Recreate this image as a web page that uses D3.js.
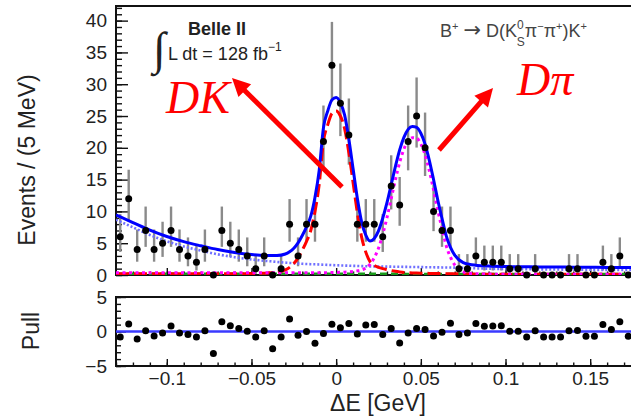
<!DOCTYPE html>
<html>
<head>
<meta charset="utf-8">
<script src="https://cdn.jsdelivr.net/npm/d3@7"></script>
<style>
  html, body { margin: 0; padding: 0; background: #fff; }
  svg { display: block; }
</style>
</head>
<body>
<svg id="chart" width="631" height="420"></svg>
<script>
// ---- Binned data: 5 MeV bins of Delta E ----
const binCenters = [-0.1275, -0.1225, -0.1175, -0.1125, -0.1075, -0.1025, -0.0975, -0.0925, -0.0875, -0.0825,
  -0.0775, -0.0725, -0.0675, -0.0625, -0.0575, -0.0525, -0.0475, -0.0425, -0.0375, -0.0325,
  -0.0275, -0.0225, -0.0175, -0.0125, -0.0075, -0.0025, 0.0025, 0.0075, 0.0125, 0.0175,
  0.0225, 0.0275, 0.0325, 0.0375, 0.0425, 0.0475, 0.0525, 0.0575, 0.0625, 0.0675,
  0.0725, 0.0775, 0.0825, 0.0875, 0.0925, 0.0975, 0.1025, 0.1075, 0.1125, 0.1175,
  0.1225, 0.1275, 0.1325, 0.1375, 0.1425, 0.1475, 0.1525, 0.1575, 0.1625, 0.1675, 0.1725];

const counts = [6, 12, 4, 7, 4, 5, 7, 4, 3, 2,
  4, 0, 7, 5, 4, 3, 1, 3, 0, 1,
  8, 3, 8, 8, 21, 33, 27, 22, 8, 8,
  8, 6, 14, 11, 21, 25, 20, 10, 7, 7,
  1, 1, 3, 2, 2, 2, 1, 1, 0, 1,
  0, 0, 0, 1, 1, 0, 0, 2, 1, 3, 0];

const pulls = [-0.8, 1.1, -1.1, 0.1, -0.65, -0.2, 0.8, -0.2, -0.45, -0.8,
  0.1, -3.2, 1.4, 0.85, 0.45, 0.05, -0.8, 0.1, -2.5, -0.8,
  1.8, -0.55, 0, -1.7, -0.3, 1.05, 0.55, 1.15, -0.35, 0.95,
  1.0, -0.45, 0.45, -1.65, -0.2, 0.45, 0.3, -0.65, -0.1, 1.2,
  -0.45, -0.2, 1.15, 0.75, 0.8, 0.85, 0.05, 0.05, -0.8, 0.1,
  -0.8, -0.8, -0.8, 0.1, 0.15, -0.7, -0.7, 1.0, 0.3, 1.4, -0.7];

// ---- Fit projections, sampled along Delta E ----
const curveX = [-0.13, -0.12, -0.11, -0.10, -0.09, -0.08, -0.07, -0.06, -0.05, -0.045,
  -0.04, -0.035, -0.03, -0.0275, -0.025, -0.0225, -0.02, -0.0175, -0.015, -0.0125,
  -0.01, -0.0075, -0.005, -0.0025, 0, 0.0025, 0.005, 0.0075, 0.01, 0.0125,
  0.015, 0.0175, 0.02, 0.0225, 0.025, 0.0275, 0.03, 0.0325, 0.035, 0.0375,
  0.04, 0.0425, 0.045, 0.0475, 0.05, 0.0525, 0.055, 0.0575, 0.06, 0.0625,
  0.065, 0.0675, 0.07, 0.075, 0.08, 0.09, 0.10, 0.11, 0.12, 0.13,
  0.14, 0.15, 0.16, 0.17, 0.18];

const totalFit = [9.45, 8.25, 7.05, 6.05, 5.25, 4.6, 4.0, 3.55, 3.22, 3.11,
  3.05, 3.06, 3.3, 3.65, 4.2, 5.05, 6.21, 7.58, 9.25, 12.23,
  16.5, 23.18, 25.76, 27.54, 27.93, 27.12, 25.13, 21.36, 16.7, 12.07,
  8.4, 6.28, 5.36, 5.75, 6.94, 8.93, 11.37, 14.21, 17.08, 19.67,
  21.65, 22.9, 23.35, 23.22, 22.29, 20.57, 18.04, 15.02, 11.79, 8.88,
  6.16, 4.34, 3.13, 1.95, 1.62, 1.41, 1.33, 1.30, 1.27, 1.25,
  1.23, 1.21, 1.19, 1.18, 1.17];

const dkSignal = [0.2, 0.2, 0.2, 0.2, 0.2, 0.2, 0.2, 0.2, 0.22, 0.26,
  0.32, 0.45, 0.8, 1.2, 1.8, 2.7, 3.9, 5.3, 7.0, 10.0,
  14.3, 21.0, 23.6, 25.4, 25.8, 25.0, 23.0, 19.2, 14.5, 9.8,
  6.0, 3.6, 2.1, 1.5, 1.2, 1.0, 0.85, 0.7, 0.58, 0.48,
  0.4, 0.36, 0.32, 0.3, 0.28, 0.27, 0.25, 0.24, 0.22, 0.22,
  0.21, 0.2, 0.2, 0.18, 0.15, 0.12, 0.12, 0.12, 0.12, 0.12,
  0.12, 0.12, 0.12, 0.12, 0.12];

const dpiPeak = [0.35, 0.35, 0.35, 0.35, 0.35, 0.35, 0.35, 0.35, 0.35, 0.35,
  0.35, 0.35, 0.35, 0.35, 0.35, 0.35, 0.35, 0.35, 0.35, 0.35,
  0.35, 0.36, 0.37, 0.38, 0.4, 0.42, 0.45, 0.5, 0.56, 0.65,
  0.8, 1.1, 1.7, 2.7, 4.2, 6.4, 9.0, 12.0, 15.0, 17.7,
  19.8, 21.1, 21.6, 21.5, 20.6, 18.9, 16.4, 13.4, 10.2, 7.3,
  4.6, 2.8, 1.6, 0.5, 0.25, 0.15, 0.12, 0.12, 0.12, 0.12,
  0.12, 0.12, 0.12, 0.12, 0.12];

const combBkg = [8.7, 7.5, 6.3, 5.3, 4.5, 3.85, 3.25, 2.8, 2.45, 2.3,
  2.18, 2.06, 1.95, 1.9, 1.85, 1.8, 1.76, 1.73, 1.7, 1.68,
  1.65, 1.62, 1.59, 1.56, 1.53, 1.5, 1.48, 1.46, 1.44, 1.42,
  1.4, 1.38, 1.36, 1.35, 1.34, 1.33, 1.32, 1.31, 1.3, 1.29,
  1.28, 1.27, 1.26, 1.25, 1.24, 1.23, 1.22, 1.21, 1.2, 1.19,
  1.18, 1.17, 1.16, 1.12, 1.07, 0.99, 0.94, 0.91, 0.88, 0.86,
  0.84, 0.82, 0.8, 0.79, 0.78];

const bbBkg = [0.2, 0.2, 0.2, 0.2, 0.2, 0.2, 0.2, 0.2, 0.2, 0.2,
  0.2, 0.2, 0.2, 0.2, 0.2, 0.2, 0.2, 0.2, 0.2, 0.2,
  0.2, 0.2, 0.2, 0.2, 0.2, 0.2, 0.2, 0.2, 0.2, 0.2,
  0.2, 0.2, 0.2, 0.2, 0.2, 0.2, 0.2, 0.2, 0.2, 0.2,
  0.17, 0.17, 0.17, 0.17, 0.17, 0.17, 0.17, 0.17, 0.17, 0.17,
  0.17, 0.17, 0.17, 0.15, 0.15, 0.15, 0.15, 0.15, 0.15, 0.15,
  0.15, 0.15, 0.15, 0.15, 0.15];

// ---- Axis ticks ----
const yTickValues = [0, 5, 10, 15, 20, 25, 30, 35, 40];
const yTickLabels = ["0", "5", "10", "15", "20", "25", "30", "35", "40"];
const pullTickValues = [-5, 0, 5];
const pullTickLabels = ["\u22125", "0", "5"];
const xTickValues = [-0.1, -0.05, 0, 0.05, 0.1, 0.15];
const xTickLabels = ["\u22120.1", "\u22120.05", "0", "0.05", "0.1", "0.15"];

// ---- Layout ----
const svg = d3.select("#chart");
const sans = "'Liberation Sans', Arial, Helvetica, sans-serif";
const P = { left: 116, right: 641, top: 6, bottom: 275, pTop: 297, pBottom: 366 };

const x = d3.scaleLinear().domain([-0.13, 0.18]).range([P.left, P.right]);
const y = d3.scaleLinear().domain([0, 42.3]).range([P.bottom, P.top]);
const yp = d3.scaleLinear().domain([-5, 5]).range([P.pBottom, P.pTop]);

svg.append("defs").append("clipPath").attr("id", "clipTop")
  .append("rect").attr("x", P.left).attr("y", P.top)
  .attr("width", P.right - P.left).attr("height", P.bottom - P.top);

function styleAxis(g) {
  g.select(".domain").remove();
  g.selectAll(".tick line").attr("stroke", "#111").attr("stroke-width", 1.4);
  g.selectAll(".tick text").attr("fill", "#222").style("font-family", sans).style("font-size", "19px");
}

const minorY = d3.range(0, 43, 1);
const minorPull = d3.range(-5, 6, 1);
const minorX = d3.range(-13, 19, 1).map(v => v / 100);

// main panel axes (ticks point inward)
svg.append("g").attr("transform", `translate(${P.left},0)`)
  .call(d3.axisLeft(y).tickValues(minorY).tickSize(-6).tickFormat(""))
  .call(styleAxis);
svg.append("g").attr("transform", `translate(${P.left},0)`)
  .call(d3.axisLeft(y).tickValues(yTickValues).tickSize(-12).tickPadding(9)
    .tickFormat((d, i) => yTickLabels[i]))
  .call(styleAxis);
svg.append("g").attr("transform", `translate(0,${P.bottom})`)
  .call(d3.axisBottom(x).tickValues(minorX).tickSize(-3.5).tickFormat(""))
  .call(styleAxis);
svg.append("g").attr("transform", `translate(0,${P.bottom})`)
  .call(d3.axisBottom(x).tickValues(xTickValues).tickSize(-7).tickFormat(""))
  .call(styleAxis);

// pull panel axes
svg.append("g").attr("transform", `translate(${P.left},0)`)
  .call(d3.axisLeft(yp).tickValues(minorPull).tickSize(-5).tickFormat(""))
  .call(styleAxis);
svg.append("g").attr("transform", `translate(${P.left},0)`)
  .call(d3.axisLeft(yp).tickValues(pullTickValues).tickSize(-10).tickPadding(9)
    .tickFormat((d, i) => pullTickLabels[i]))
  .call(styleAxis);
svg.append("g").attr("transform", `translate(0,${P.pBottom})`)
  .call(d3.axisBottom(x).tickValues(minorX).tickSize(-3.5).tickFormat(""))
  .call(styleAxis);
svg.append("g").attr("transform", `translate(0,${P.pBottom})`)
  .call(d3.axisBottom(x).tickValues(xTickValues).tickSize(-7).tickPadding(6)
    .tickFormat((d, i) => xTickLabels[i]))
  .call(styleAxis);

// frames
svg.append("rect").attr("x", P.left).attr("y", P.top)
  .attr("width", P.right - P.left).attr("height", P.bottom - P.top)
  .attr("fill", "none").attr("stroke", "#111").attr("stroke-width", 2);
svg.append("rect").attr("x", P.left).attr("y", P.pTop)
  .attr("width", P.right - P.left).attr("height", P.pBottom - P.pTop)
  .attr("fill", "none").attr("stroke", "#111").attr("stroke-width", 2);

// ---- Data error bars (Poisson 68% intervals) ----
function poissonLow(n) {
  if (n === 0) return 0;
  return n * Math.pow(1 - 1 / (9 * n) - 1 / (3 * Math.sqrt(n)), 3);
}
function poissonHigh(n) {
  const m = n + 1;
  return m * Math.pow(1 - 1 / (9 * m) + 1 / (3 * Math.sqrt(m)), 3);
}
const bins = binCenters.map((c, i) => ({ c, n: counts[i], p: pulls[i] }));

const plot = svg.append("g").attr("clip-path", "url(#clipTop)");
plot.append("g").selectAll("line")
  .data(bins.filter(b => b.n > 0))
  .join("line")
  .attr("x1", d => x(d.c)).attr("x2", d => x(d.c))
  .attr("y1", d => y(poissonLow(d.n))).attr("y2", d => y(poissonHigh(d.n)))
  .attr("stroke", "#8a8a8a").attr("stroke-width", 2.4);

// ---- Fit curves ----
const curvePts = arr => curveX.map((v, i) => [v, arr[i]]);
const line = d3.line().x(d => x(d[0])).y(d => y(d[1])).curve(d3.curveMonotoneX);

const curves = [
  { data: bbBkg, color: "#1a9a1a", width: 2.5, dash: "7,4" },
  { data: combBkg, color: "#6f6fff", width: 2.6, dash: "2,2" },
  { data: dkSignal, color: "#ff0000", width: 3, dash: "13,5" },
  { data: dpiPeak, color: "#ff00ff", width: 3, dash: "3,3.5" },
  { data: totalFit, color: "#0000ff", width: 3, dash: null }
];
curves.forEach(c => {
  plot.append("path")
    .datum(curvePts(c.data))
    .attr("d", line)
    .attr("fill", "none")
    .attr("stroke", c.color)
    .attr("stroke-width", c.width)
    .attr("stroke-dasharray", c.dash);
});

// data markers
svg.append("g").selectAll("circle")
  .data(bins)
  .join("circle")
  .attr("cx", d => x(d.c)).attr("cy", d => y(d.n))
  .attr("r", 3.5).attr("fill", "#000");

// ---- Pull panel ----
svg.append("line")
  .attr("x1", x(-0.13)).attr("x2", x(0.18))
  .attr("y1", yp(0)).attr("y2", yp(0))
  .attr("stroke", "#3a3aff").attr("stroke-width", 2.5);
svg.append("g").selectAll("circle")
  .data(bins)
  .join("circle")
  .attr("cx", d => x(d.c)).attr("cy", d => yp(d.p))
  .attr("r", 3.5).attr("fill", "#000");

// ---- Axis titles ----
svg.append("text")
  .attr("transform", "translate(35,160) rotate(-90)")
  .attr("text-anchor", "middle")
  .style("font-family", sans).style("font-size", "23px").attr("fill", "#222")
  .text("Events / (5 MeV)");
svg.append("text")
  .attr("transform", "translate(39,331) rotate(-90)")
  .attr("text-anchor", "middle")
  .style("font-family", sans).style("font-size", "23px").attr("fill", "#222")
  .text("Pull");
svg.append("text")
  .attr("x", 378).attr("y", 411)
  .attr("text-anchor", "middle")
  .style("font-family", sans).style("font-size", "23px").attr("fill", "#222")
  .text("\u0394E [GeV]");

// ---- Labels inside the main panel ----
svg.append("text").attr("x", 188).attr("y", 35)
  .style("font-family", sans).style("font-size", "18px").style("font-weight", "bold")
  .attr("fill", "#222").text("Belle II");
svg.append("text").attr("x", 153).attr("y", 64)
  .style("font-family", "'Liberation Serif', serif").style("font-size", "46px")
  .attr("fill", "#222").text("\u222B");
const lumi = svg.append("text").attr("x", 168).attr("y", 60)
  .style("font-family", sans).style("font-size", "18px").attr("fill", "#222");
lumi.append("tspan").text("L dt = 128 fb");
lumi.append("tspan").attr("dy", -9).style("font-size", "12px").text("\u22121");

const decay = svg.append("text").attr("x", 440).attr("y", 37)
  .style("font-family", sans).style("font-size", "18px").attr("fill", "#444");
decay.append("tspan").text("B");
decay.append("tspan").attr("dy", -7).style("font-size", "11px").text("+");
decay.append("tspan").attr("dy", 7).attr("dx", 5)
  .style("font-family", "'DejaVu Sans', sans-serif").style("font-size", "21px").text("\u2192");
decay.append("tspan").attr("dx", 5).text("D(K");
decay.append("tspan").attr("dy", -8).style("font-size", "12px").text("0");
decay.append("tspan").attr("dx", -7).attr("dy", 17).style("font-size", "12px").text("S");
decay.append("tspan").attr("dy", -9).text("\u03C0");
decay.append("tspan").attr("dy", -7).style("font-size", "11px").text("\u2212");
decay.append("tspan").attr("dy", 7).text("\u03C0");
decay.append("tspan").attr("dy", -7).style("font-size", "11px").text("+");
decay.append("tspan").attr("dy", 7).text(")K");
decay.append("tspan").attr("dy", -7).style("font-size", "11px").text("+");

// ---- Red call-outs ----
const serifItalic = "'Liberation Serif', 'Times New Roman', serif";
svg.append("text").attr("x", 166).attr("y", 113)
  .style("font-family", serifItalic).style("font-style", "italic").style("font-size", "46px")
  .attr("fill", "#ff0000").text("DK");
svg.append("text").attr("x", 517).attr("y", 95)
  .style("font-family", serifItalic).style("font-style", "italic").style("font-size", "46px")
  .attr("fill", "#ff0000").text("D\u03C0");

function arrow(x0, y0, x1, y1) {
  const dx = x1 - x0, dy = y1 - y0, L = Math.hypot(dx, dy);
  const ux = dx / L, uy = dy / L, hl = 18, hw = 9;
  const bx = x1 - ux * hl, by = y1 - uy * hl;
  svg.append("line").attr("x1", x0).attr("y1", y0).attr("x2", bx + ux * 2).attr("y2", by + uy * 2)
    .attr("stroke", "#ff0000").attr("stroke-width", 5);
  svg.append("path")
    .attr("d", `M${x1},${y1}L${bx - uy * hw},${by + ux * hw}L${bx + uy * hw},${by - ux * hw}Z`)
    .attr("fill", "#ff0000");
}
arrow(342, 187, 232, 78);
arrow(439, 150, 493, 88);
</script>
</body>
</html>
